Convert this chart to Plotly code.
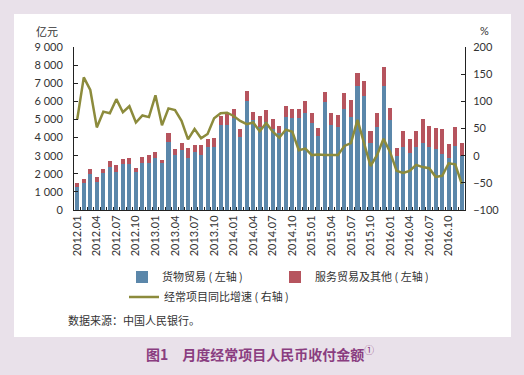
import plotly.graph_objects as go

months = [f"{y}.{m:02d}" for y in range(2012, 2017) for m in range(1, 13)]

goods = [1290, 1470, 1990, 1560, 2020, 2390, 2110, 2520, 2540, 2110, 2570, 2570,
         2850, 2570, 3730, 3030, 3310, 2850, 3220, 3030, 3490, 3490, 4690, 4720,
         5060, 4040, 6010, 4960, 4600, 4870, 4500, 4230, 5150, 5060, 5060, 5330,
         4780, 4080, 5970, 4720, 4560, 5560, 5110, 6840, 6320, 3680, 4560, 6840,
         4960, 2980, 3490, 3160, 3490, 3680, 3490, 3380, 3090, 2850, 3550, 2980]
services = [180, 240, 270, 280, 240, 310, 370, 290, 350, 220, 350, 460,
            350, 190, 500, 330, 380, 570, 360, 550, 430, 500, 510, 650,
            510, 430, 550, 460, 580, 640, 520, 400, 590, 510, 510, 680,
            570, 440, 540, 630, 680, 910, 970, 730, 790, 680, 810, 1060,
            660, 460, 890, 740, 890, 1320, 1140, 1140, 1360, 810, 1050, 730]
growth = [67, 144, 121, 52, 81, 78, 104, 80, 91, 61, 74, 71,
          111, 56, 87, 84, 64, 30, 49, 32, 40, 69, 78, 79,
          73, 64, 58, 61, 45, 60, 44, 33, 48, 44, 10, 13,
          1, 2, 1, 1, 1, 18, 23, 66, 21, -19, 1, 31,
          7, -28, -32, -28, -17, -21, -23, -39, -37, -14, -16, -52]

left_ticks = [0, 1000, 2000, 3000, 4000, 5000, 6000, 7000, 8000, 9000]
left_labels = ["0", "1 000", "2 000", "3 000", "4 000", "5 000", "6 000", "7 000", "8 000", "9 000"]
right_ticks = [-100, -50, 0, 50, 100, 150, 200]
x_labels = [m if i % 3 == 0 else " " for i, m in enumerate(months)]

BLUE = "#5b87aa"
RED = "#b6545e"
OLIVE = "#8c8b3c"
TXT = "#333333"
CJK = "Noto Sans CJK SC"
NUM = "Lato, Noto Sans CJK SC"

W, H = 524, 375
L, R, T, B = 74, 465, 47, 210
pw, ph = R - L, B - T


def px(x):
    return (x - L) / pw


def py(y):
    return (B - y) / ph


fig = go.Figure()
fig.add_trace(go.Bar(x=months, y=goods, name="货物贸易 ( 左轴 )", marker_color=BLUE,
                     marker_line_width=0, legend="legend"))
fig.add_trace(go.Bar(x=months, y=services, name="服务贸易及其他 ( 左轴 )", marker_color=RED,
                     marker_line_width=0, legend="legend"))
fig.add_trace(go.Scatter(x=months, y=growth, name="经常项目同比增速 ( 右轴 )", mode="lines",
                         line=dict(color=OLIVE, width=2.5), yaxis="y2", legend="legend2"))

fig.update_layout(
    width=W, height=H,
    margin=dict(l=L, r=W - R, t=T, b=H - B, pad=0, autoexpand=False),
    paper_bgcolor="#e9e1ea",
    plot_bgcolor="rgba(0,0,0,0)",
    barmode="stack",
    bargap=0.38,
    font=dict(family=NUM, size=11, color=TXT),
    xaxis=dict(
        type="category", tickmode="array", tickvals=months, ticktext=x_labels,
        tickangle=-90, ticks="inside", tickson="boundaries", ticklen=3, tickcolor="#222",
        showline=True, linecolor="#222", linewidth=1, showgrid=False, automargin=False,
        tickfont=dict(family=NUM, size=11, color=TXT),
    ),
    yaxis=dict(
        range=[0, 9000], tickmode="array", tickvals=left_ticks, ticktext=left_labels,
        ticks="inside", ticklen=4, tickcolor="#222", showline=True, linecolor="#222",
        linewidth=1, showgrid=False, zeroline=False, ticklabelstandoff=8, automargin=False,
        tickfont=dict(family=NUM, size=11, color=TXT),
    ),
    yaxis2=dict(
        range=[-100, 200], tickmode="array", tickvals=right_ticks, overlaying="y", side="right",
        ticks="inside", ticklen=4, tickcolor="#222", showline=True, linecolor="#222",
        linewidth=1, showgrid=False, zeroline=False, ticklabelstandoff=5, automargin=False,
        tickfont=dict(family=NUM, size=11, color=TXT),
    ),
    legend=dict(
        orientation="h", x=px(122), y=py(277), xanchor="left", yanchor="middle",
        entrywidth=108, entrywidthmode="pixels", bgcolor="rgba(0,0,0,0)",
        font=dict(family=CJK, size=11, color=TXT), traceorder="normal",
    ),
    legend2=dict(
        orientation="h", x=px(124), y=py(297), xanchor="left", yanchor="middle",
        bgcolor="rgba(0,0,0,0)", font=dict(family=CJK, size=11, color=TXT),
    ),
    shapes=[dict(type="rect", xref="paper", yref="paper", x0=px(14), x1=px(511),
                 y0=py(337), y1=py(14), fillcolor="white", line_width=0, layer="below")],
    annotations=[
        dict(text="亿元", xref="paper", yref="paper", x=px(47), y=py(31), showarrow=False,
             font=dict(family=CJK, size=11, color=TXT), xanchor="center", yanchor="middle"),
        dict(text="%", xref="paper", yref="paper", x=px(484), y=py(31), showarrow=False,
             font=dict(family=NUM, size=11, color=TXT), xanchor="center", yanchor="middle"),
        dict(text="数据来源：中国人民银行。", xref="paper", yref="paper", x=px(66), y=py(320),
             showarrow=False, font=dict(family=CJK, size=11, color=TXT),
             xanchor="left", yanchor="middle"),
        dict(text="<b>图1　月度经常项目人民币收付金额</b><sup>①</sup>", xref="paper", yref="paper",
             x=px(260), y=py(353), showarrow=False,
             font=dict(family=CJK, size=14, color="#8a3d80"), xanchor="center", yanchor="middle"),
    ],
)

fig.write_html(
    "out.html",
    config={"displayModeBar": False},
    post_script="document.body.style.margin='0';document.body.style.padding='0';"
                "document.body.style.overflow='hidden';",
)
